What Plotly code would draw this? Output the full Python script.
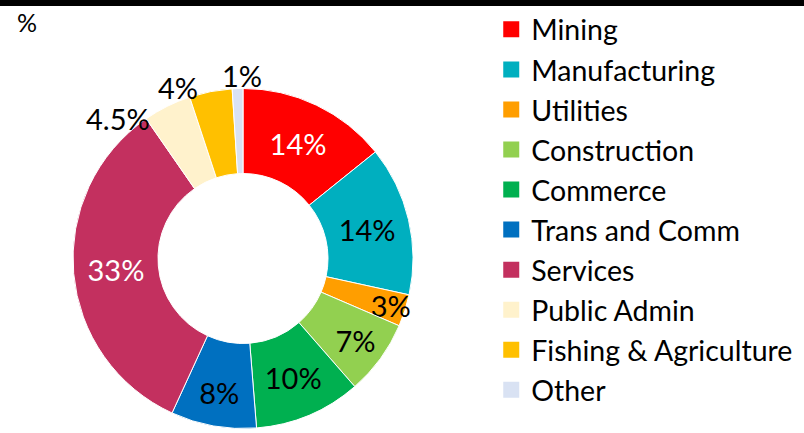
import math
import plotly.graph_objects as go

# Sector shares (%)
sectors = ["Mining", "Manufacturing", "Utilities", "Construction", "Commerce",
           "Trans and Comm", "Services", "Public Admin", "Fishing & Agriculture", "Other"]
shares = [14, 14, 3, 7, 10, 8, 33, 4.5, 4, 1]
share_labels = ["14%", "14%", "3%", "7%", "10%", "8%", "33%", "4.5%", "4%", "1%"]

colors = ["#FF0000", "#00AFBF", "#FF9E00", "#92D050", "#00B050",
          "#0070C0", "#C3305F", "#FFF2CC", "#FFC000", "#D9E2F3"]
text_colors = ["white", "black", "black", "black", "black",
               "black", "white", "black", "black", "black"]
# small slices get their labels outside the ring (as annotations below)
outside = [False] * 7 + [True] * 3
# pixel nudges for the outside labels (x, y; y positive = up)
outside_nudge = {7: (-49, -12), 8: (-33, 4), 9: (4, 13)}

W, H = 804, 433
cx, cy, r = 243, 258.5, 170
FONT = "Lato, Open Sans, sans-serif"
FS = 29

fig = go.Figure()
fig.add_trace(go.Pie(
    labels=sectors,
    values=shares,
    text=[("" if o else t) for t, o in zip(share_labels, outside)],
    textinfo="text",
    textposition=["none" if o else "inside" for o in outside],
    insidetextorientation="horizontal",
    textfont=dict(color=text_colors, size=FS),
    marker=dict(colors=colors, line=dict(color="white", width=1)),
    hole=0.5,
    sort=False,
    direction="clockwise",
    rotation=0,
    showlegend=False,
    domain=dict(x=[(cx - r) / W, (cx + r) / W],
                y=[(H - cy - r) / H, (H - cy + r) / H]),
))

# legend entries with larger square swatches
for name, col in zip(sectors, colors):
    fig.add_trace(go.Scatter(
        x=[None], y=[None], mode="markers", name=name,
        marker=dict(symbol="square", size=16, color=col),
        hoverinfo="skip",
    ))

# outside labels positioned at each slice's mid-angle on the outer ring
total = sum(shares)
annotations = []
cum = 0.0
for i, v in enumerate(shares):
    mid = (cum + v / 2) / total * 2 * math.pi
    cum += v
    if not outside[i]:
        continue
    px = cx + r * math.sin(mid)
    py = cy - r * math.cos(mid)
    dx, dy = outside_nudge[i]
    annotations.append(dict(
        text=share_labels[i], x=px / W, y=1 - py / H, xref="paper", yref="paper",
        xanchor="center", yanchor="middle", xshift=dx, yshift=dy, showarrow=False,
        font=dict(size=FS, color="black", family=FONT)))

annotations.append(dict(text="%", x=15 / W, y=1 - 5 / H, xref="paper", yref="paper",
                        xanchor="left", yanchor="top", showarrow=False,
                        font=dict(size=25, color="black", family=FONT)))

fig.update_layout(
    width=W, height=H,
    margin=dict(l=0, r=0, t=0, b=0),
    paper_bgcolor="white",
    plot_bgcolor="rgba(0,0,0,0)",
    xaxis=dict(visible=False),
    yaxis=dict(visible=False),
    font=dict(family=FONT, color="black"),
    uniformtext=dict(mode="show", minsize=FS),
    legend=dict(
        x=0.611, y=0.99, xanchor="left", yanchor="top",
        font=dict(size=28.5, color="black"),
        itemsizing="trace", tracegroupgap=0,
        bgcolor="rgba(0,0,0,0)",
    ),
    shapes=[dict(type="rect", xref="paper", yref="paper",
                 x0=0, x1=1, y0=1 - 6 / H, y1=1,
                 fillcolor="black", line=dict(width=0))],
    annotations=annotations,
)

fig.write_html("out.html")
